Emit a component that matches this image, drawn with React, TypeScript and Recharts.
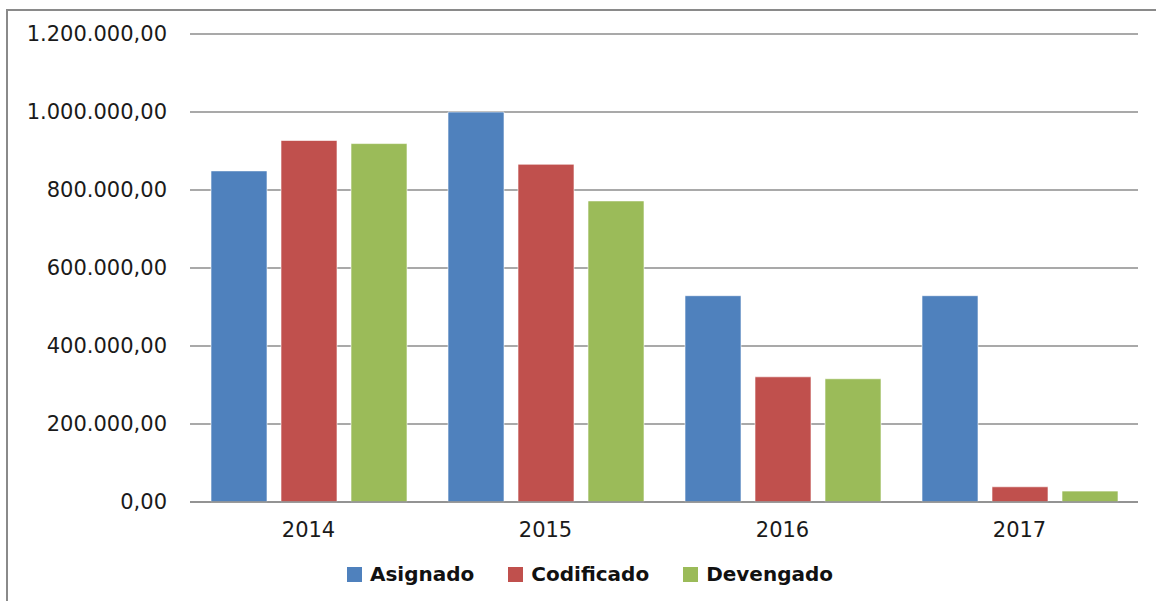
import React from 'react';
import { BarChart, Bar, XAxis, YAxis, CartesianGrid, Legend } from 'recharts';

const years = ['2014', '2015', '2016', '2017'];
const asignado = [849000, 1000000, 529000, 529000];
const codificado = [927000, 866000, 321000, 39000];
const devengado = [919000, 772000, 316000, 28000];
const yTicks = [0, 200000, 400000, 600000, 800000, 1000000, 1200000];

const data = years.map((year, i) => ({
  year,
  Asignado: asignado[i],
  Codificado: codificado[i],
  Devengado: devengado[i],
}));

const series = [
  { key: 'Asignado', color: '#4F81BD' },
  { key: 'Codificado', color: '#C0504D' },
  { key: 'Devengado', color: '#9BBB59' },
];

const FONT = '"DejaVu Sans", Verdana, sans-serif';

function formatNumber(v: number) {
  const s = Math.round(v).toString().replace(/\B(?=(\d{3})+(?!\d))/g, '.');
  return `${s},00`;
}

function LegendContent() {
  return (
    <div style={{ display: 'flex', justifyContent: 'center', alignItems: 'center', fontFamily: FONT, paddingLeft: 42 }}>
      {series.map((s) => (
        <div key={s.key} style={{ display: 'flex', alignItems: 'center', margin: '0 17px' }}>
          <span style={{ width: 15, height: 15, background: s.color, display: 'inline-block', marginRight: 8 }} />
          <span style={{ fontSize: 20, fontWeight: 'bold', color: '#111' }}>{s.key}</span>
        </div>
      ))}
    </div>
  );
}

export default function App() {
  return (
    <div style={{ position: 'fixed', left: 0, top: 0, width: 1156, height: 601, background: '#fff' }}>
      <div
        style={{
          position: 'absolute',
          left: 6,
          top: 9,
          width: 1160,
          height: 600,
          borderTop: '2px solid #8a8a8a',
          borderLeft: '2px solid #8a8a8a',
        }}
      />
      <div style={{ position: 'absolute', left: 0, top: 0 }}>
        <BarChart
          width={1156}
          height={601}
          data={data}
          margin={{ top: 34, right: 18, left: 0, bottom: 35 }}
          barGap={14}
          barCategoryGap={21}
        >
          <CartesianGrid vertical={false} stroke="#8c8c8c" strokeWidth={1.3} />
          <XAxis
            dataKey="year"
            height={40}
            tickSize={0}
            tickMargin={20}
            axisLine={{ stroke: '#8c8c8c', strokeWidth: 1.3 }}
            tick={{ fill: '#1a1a1a', fontSize: 21, fontFamily: FONT }}
          />
          <YAxis
            width={190}
            domain={[0, 1200000]}
            ticks={yTicks}
            tickFormatter={formatNumber}
            tickSize={0}
            tickMargin={23}
            axisLine={false}
            tick={{ fill: '#1a1a1a', fontSize: 21, fontFamily: FONT }}
          />
          <Legend verticalAlign="bottom" content={<LegendContent />} wrapperStyle={{ bottom: 15 }} />
          {series.map((s) => (
            <Bar
              key={s.key}
              dataKey={s.key}
              fill={s.color}
              stroke="rgba(255,255,255,0.6)"
              strokeWidth={1}
              isAnimationActive={false}
            />
          ))}
        </BarChart>
      </div>
    </div>
  );
}
